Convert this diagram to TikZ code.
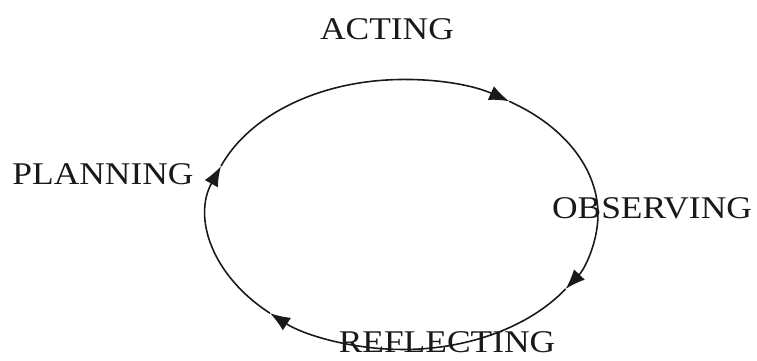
\documentclass[tikz,border=0pt]{standalone}
\usepackage{fontspec}
\setmainfont{Liberation Serif}[FakeStretch=1.12]
\usepackage{tikz}
\usetikzlibrary{arrows.meta}
\definecolor{cycleink}{RGB}{25,25,25}

\begin{document}
\begin{tikzpicture}[
  x=0.02cm, y=-0.02cm,
  stage/.style={font=\fontsize{18}{20}\selectfont, text=cycleink, inner sep=0pt},
  loopline/.style={-{Latex[length=4mm,width=3mm]}, cycleink, line width=0.9pt}
]
\useasboundingbox (0,0) rectangle (757,360);

% Stages
\node[stage] (acting) at (387,29) {ACTING};
\node[stage] (planning) at (103,174) {PLANNING};
\node[stage] (observing) at (652,208) {OBSERVING};
\node[stage] (reflecting) at (447,342) {REFLECTING};

% Cycle
\coordinate (ctr) at (403,214.5);
\foreach \a/\b in {159/57, 57/-33.5, -33.5/-133, -133/-201}
  \draw[loopline] ([shift={(\a:3.9cm and 2.7cm)}]ctr)
    arc[start angle=\a, end angle=\b, x radius=3.9cm, y radius=2.7cm];
\end{tikzpicture}
\end{document}
